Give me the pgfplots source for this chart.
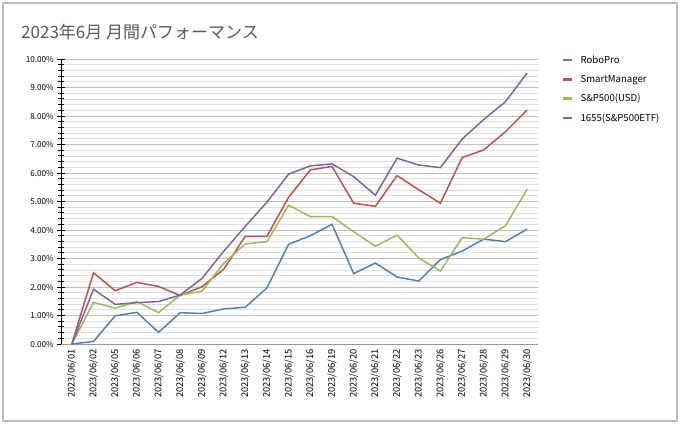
\documentclass[border=0pt]{standalone}
\usepackage{pgfplots}
\pgfplotsset{compat=1.18}
\usepackage{pgfplotstable}
\usepackage{fontspec}
\setmainfont{Noto Sans CJK JP}
\definecolor{cBlue}{HTML}{4F81BD}
\definecolor{cRed}{HTML}{C0504D}
\definecolor{cGreen}{HTML}{9BBB59}
\definecolor{cPurple}{HTML}{8064A2}
\definecolor{cTitle}{HTML}{595959}
\definecolor{cBorder}{HTML}{C0C0C0}
\pgfplotstableread{
x robo smart sp etf
0 0 0 0 0
1 0.09 2.50 1.46 1.92
2 0.99 1.87 1.26 1.39
3 1.11 2.16 1.49 1.45
4 0.41 2.02 1.10 1.49
5 1.10 1.70 1.72 1.72
6 1.07 2.01 1.85 2.30
7 1.23 2.62 2.83 3.25
8 1.29 3.78 3.51 4.13
9 1.97 3.78 3.59 4.98
10 3.50 5.15 4.87 5.96
11 3.80 6.11 4.47 6.25
12 4.20 6.23 4.47 6.32
13 2.47 4.94 3.94 5.87
14 2.84 4.83 3.43 5.22
15 2.35 5.91 3.82 6.52
16 2.21 5.41 3.02 6.28
17 2.96 4.94 2.56 6.19
18 3.26 6.54 3.73 7.19
19 3.68 6.81 3.68 7.88
20 3.59 7.45 4.15 8.50
21 4.03 8.21 5.43 9.51
}\data
\begin{document}
\begin{tikzpicture}[x=1pt,y=1pt]
\path (0,0) rectangle (680,423);
\draw[cBorder,line width=1.2pt] (3,2) rectangle (677,420);
\node[anchor=west,text=cTitle,font=\fontsize{17}{20}\selectfont,inner sep=0pt] at (21,391) {2023年6月\ 月間パフォーマンス};
\begin{axis}[
  at={(61pt,79pt)}, anchor=south west,
  scale only axis, width=477pt, height=285pt,
  xmin=-0.5, xmax=21.5, ymin=0, ymax=10,
  clip=false,
  axis x line*=bottom, axis y line*=left,
  x axis line style={draw=gray!80,line width=0.9pt,-},
  y axis line style={draw=black,line width=0.9pt,-},
  xtick={0,...,21},
  xticklabels={2023/06/01,2023/06/02,2023/06/05,2023/06/06,2023/06/07,2023/06/08,2023/06/09,2023/06/12,2023/06/13,2023/06/14,2023/06/15,2023/06/16,2023/06/19,2023/06/20,2023/06/21,2023/06/22,2023/06/23,2023/06/26,2023/06/27,2023/06/28,2023/06/29,2023/06/30},
  x tick label style={rotate=90,anchor=east,font=\fontsize{9.3}{10}\selectfont,inner sep=1pt,xshift=0pt},
  major x tick style={draw=none},
  ytick={0,1,...,10},
  minor y tick num=4,
  yticklabel={\pgfmathprintnumber[fixed,fixed zerofill,precision=2]{\tick}\%},
  /pgf/number format/assume math mode=true,
  y tick label style={font=\fontsize{8.2}{9}\selectfont,inner sep=1pt,xshift=-2pt},
  tick align=center,
  major tick length=8pt, minor tick length=5pt,
  every tick/.style={black,line width=0.8pt},
  ymajorgrids, yminorgrids,
  major grid style={draw=gray!50,line width=0.7pt},
  minor grid style={draw=gray!25,line width=0.7pt},
  legend style={at={(1.05,1.02)},anchor=north west,draw=none,fill=none,
    font=\fontsize{9.6}{11}\selectfont,row sep=6.3pt,inner sep=0pt,
    nodes={inner xsep=7pt}},
  legend cell align=left,
  legend image code/.code={\draw[line width=2.5pt,#1] (0pt,0pt) -- (9pt,0pt);},
]
\addplot[cBlue,line width=1.5pt] table[x=x,y=robo]{\data};
\addlegendentry{RoboPro}
\addplot[cRed,line width=1.5pt] table[x=x,y=smart]{\data};
\addlegendentry{SmartManager}
\addplot[cGreen,line width=1.5pt] table[x=x,y=sp]{\data};
\addlegendentry{S\&P500(USD)}
\addplot[cPurple,line width=1.5pt] table[x=x,y=etf]{\data};
\addlegendentry{1655(S\&P500ETF)}
\end{axis}
\end{tikzpicture}
\end{document}
